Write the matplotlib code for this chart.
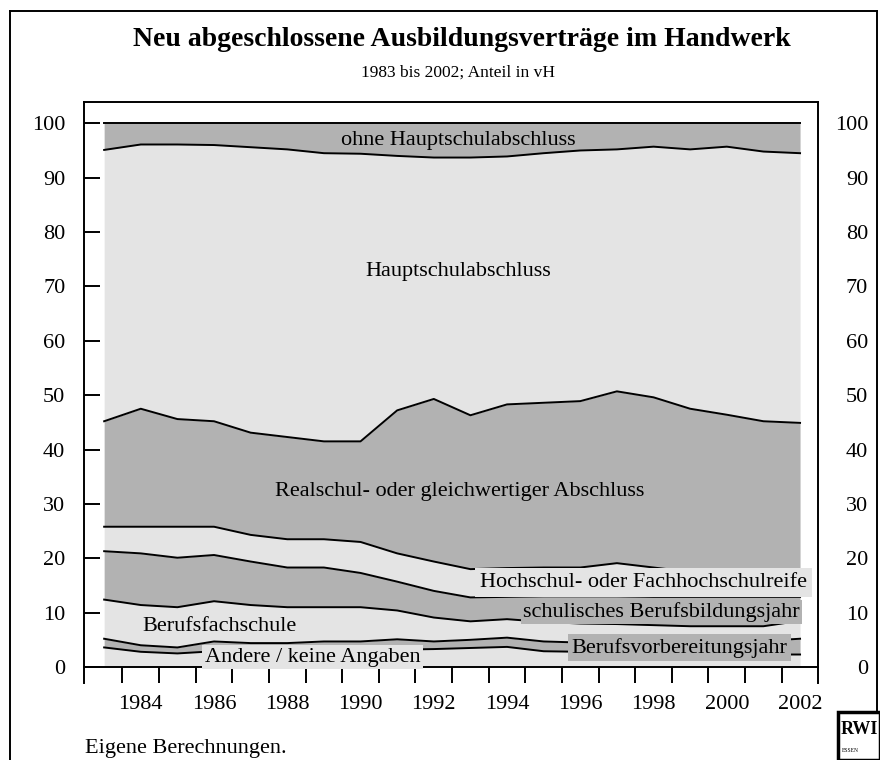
import numpy as np
import matplotlib
matplotlib.use("Agg")
import matplotlib.pyplot as plt
from matplotlib.lines import Line2D
from matplotlib.patches import Rectangle

plt.rcParams['font.family'] = ['Liberation Serif', 'DejaVu Serif']

years = np.arange(1983, 2003)

# shares in vH, bottom to top
andere = [3.6, 2.8, 2.5, 2.9, 2.9, 3.0, 3.0, 3.1, 3.2, 3.3, 3.5, 3.7, 2.9, 2.8, 2.7, 2.6, 2.5, 2.4, 2.3, 2.3]
bvj = [1.6, 1.2, 1.1, 1.8, 1.5, 1.4, 1.7, 1.6, 1.9, 1.4, 1.5, 1.7, 1.8, 1.7, 1.8, 1.8, 1.9, 2.1, 2.5, 2.9]
bfs = [7.2, 7.4, 7.4, 7.4, 7.0, 6.6, 6.3, 6.3, 5.3, 4.4, 3.4, 3.4, 3.6, 3.5, 3.4, 3.3, 3.1, 3.0, 2.7, 3.3]
bbj = [8.9, 9.5, 9.1, 8.5, 8.0, 7.3, 7.3, 6.3, 5.3, 4.9, 4.4, 4.1, 4.7, 5.0, 5.1, 5.2, 5.4, 5.4, 5.4, 4.4]
hochschul = [4.5, 4.9, 5.7, 5.2, 4.9, 5.2, 5.2, 5.7, 5.2, 5.4, 5.2, 5.3, 5.3, 5.3, 6.1, 5.4, 4.6, 4.6, 4.3, 3.6]
realschul = [19.4, 21.7, 19.8, 19.4, 18.8, 18.8, 18.0, 18.5, 26.3, 29.9, 28.3, 30.1, 30.3, 30.6, 31.6, 31.3, 30.0, 28.9, 28.0, 28.4]
haupt = [49.9, 48.6, 50.5, 50.8, 52.5, 52.9, 53.0, 52.9, 46.8, 44.4, 47.4, 45.6, 45.9, 46.1, 44.5, 46.1, 47.7, 49.3, 49.6, 49.6]
ohne = [4.9, 3.9, 3.9, 4.0, 4.4, 4.8, 5.5, 5.6, 6.0, 6.3, 6.3, 6.1, 5.5, 5.0, 4.8, 4.3, 4.8, 4.3, 5.2, 5.5]

series = [andere, bvj, bfs, bbj, hochschul, realschul, haupt, ohne]
light = '#e4e4e4'
dark = '#b2b2b2'
colors = [light, dark, light, dark, light, dark, light, dark]

W, H = 880, 760
fig = plt.figure(figsize=(8.8, 7.6), dpi=100)
ax = fig.add_axes([84 / W, (H - 683) / H, (818 - 84) / W, (683 - 101.7) / H])

tops = np.cumsum(np.array(series), axis=0)
bottom = np.zeros(len(years))
for top, c in zip(tops, colors):
    ax.fill_between(years, bottom, top, color=c, lw=0)
    ax.plot(years, top, color='black', lw=1.4)
    bottom = top

ax.set_xlim(1982.45, 2002.49)
ax.set_ylim(-2.94, 103.97)

# x axis at zero, year boundaries as ticks, even years as labels
ax.spines['bottom'].set_position(('data', 0))
for s in ['left', 'right', 'top', 'bottom']:
    ax.spines[s].set_linewidth(1.4)
ax.set_xticks(np.arange(1983.5, 2002, 1.0))
ax.set_xticklabels([])
ax.set_xticks(np.arange(1984, 2003, 2), minor=True)
ax.set_xticklabels([str(y) for y in range(1984, 2003, 2)], minor=True)
ax.tick_params(axis='x', which='major', direction='out', length=11.5, width=1.4)
ax.tick_params(axis='x', which='minor', length=0, pad=20, labelsize=16)

yt = np.arange(0, 101, 10)
ax.set_yticks(yt)
ax.set_yticklabels([str(v) for v in yt])
ax.tick_params(axis='y', direction='in', length=11.5, width=1.4, labelsize=16,
               pad=13.5, right=True)

ax2 = ax.twinx()
ax2.set_ylim(ax.get_ylim())
ax2.set_yticks(yt)
ax2.set_yticklabels([str(v) for v in yt], ha='right')
ax2.tick_params(axis='y', direction='in', length=0, labelsize=16, pad=36)
for s in ax2.spines.values():
    s.set_visible(False)

# layer labels
fs = 16
ax.text(1992.66, 96.9, 'ohne Hauptschulabschluss', ha='center', va='center', fontsize=fs)
ax.text(1992.66, 72.8, 'Hauptschulabschluss', ha='center', va='center', fontsize=fs)
ax.text(1992.72, 32.2, 'Realschul- oder gleichwertiger Abschluss', ha='center', va='center', fontsize=fs)
ax.text(2002.19, 15.6, 'Hochschul- oder Fachhochschulreife', ha='right', va='center', fontsize=fs,
        bbox=dict(facecolor=light, edgecolor='none', pad=3.5))
ax.text(2002.0, 10.1, 'schulisches Berufsbildungsjahr', ha='right', va='center', fontsize=fs,
        bbox=dict(facecolor=dark, edgecolor='none', pad=1.5))
ax.text(1986.14, 7.4, 'Berufsfachschule', ha='center', va='center', fontsize=fs)
ax.text(2001.65, 3.5, 'Berufsvorbereitungsjahr', ha='right', va='center', fontsize=fs,
        bbox=dict(facecolor=dark, edgecolor='none', pad=2.5))
ax.text(1988.7, 1.8, 'Andere / keine Angaben', ha='center', va='center', fontsize=fs,
        bbox=dict(facecolor=light, edgecolor='none', pad=2))

# titles and source
fig.text(462 / W, 1 - 40 / H, 'Neu abgeschlossene Ausbildungsverträge im Handwerk',
         ha='center', va='center', fontsize=20, fontweight='bold')
fig.text(458 / W, 1 - 73 / H, '1983 bis 2002; Anteil in vH', ha='center', va='center', fontsize=12.5)
fig.text(85 / W, 1 - 749 / H, 'Eigene Berechnungen.', ha='left', va='center', fontsize=16)

# outer frame
fig.add_artist(Line2D([10 / W, 10 / W], [0, 1 - 11 / H], color='black', lw=1.4))
fig.add_artist(Line2D([10 / W, 877 / W], [1 - 11 / H, 1 - 11 / H], color='black', lw=1.4))
fig.add_artist(Line2D([877 / W, 877 / W], [1 - 11 / H, 1 - 712 / H], color='black', lw=1.4))

# logo
fig.add_artist(Rectangle((838 / W, 0), 42 / W, 48 / H, facecolor='white',
                         edgecolor='black', lw=2.5, transform=fig.transFigure))
fig.text(841 / W, 1 - 729 / H, 'RWI', ha='left', va='center', fontsize=13, fontweight='bold')
fig.text(842 / W, 1 - 750 / H, 'ESSEN', ha='left', va='center', fontsize=4)

fig.savefig('out.png', dpi=100)
